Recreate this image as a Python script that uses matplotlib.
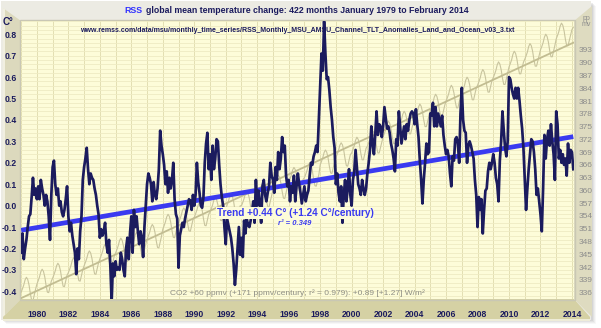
import numpy as np
import matplotlib
matplotlib.use("Agg")
import matplotlib.pyplot as plt
from matplotlib.patches import Polygon, Rectangle

# ---------------- data ----------------
temp_1979_1988 = [
    -0.22, -0.13, -0.25, -0.20, -0.16, -0.10, -0.05, -0.04, 0.04, 0.13, 0.05, 0.08,
    0.03, 0.09, 0.03, 0.12, 0.08, 0.05, 0.00, 0.05, 0.02, -0.05, -0.16, 0.05,
    0.18, 0.21, 0.10, 0.05, 0.08, 0.00, 0.02, -0.03, -0.05, -0.02, 0.03, 0.09,
    -0.05, -0.12, -0.08, -0.14, -0.18, -0.22, -0.32, -0.20, -0.25, -0.12, -0.05, 0.12,
    0.18, 0.22, 0.27, 0.17, 0.10, 0.15, 0.13, 0.12, 0.08, 0.05, 0.00, -0.04,
    -0.15, -0.11, -0.14, -0.12, -0.08, -0.18, -0.22, -0.16, -0.28, -0.45, -0.27, -0.33,
    -0.26, -0.30, -0.29, -0.30, -0.22, -0.25, -0.30, -0.33, -0.20, -0.15, -0.25, -0.13,
    -0.05, -0.22, -0.02, -0.10, -0.05, -0.12, -0.18, -0.12, -0.15, -0.24, -0.10, 0.00,
    0.10, 0.15, 0.13, 0.10, 0.02, 0.11, 0.05, 0.03, 0.08, 0.17, 0.35, 0.28,
    0.24, 0.19, 0.10, 0.16, 0.06, 0.13, 0.08, 0.12, 0.20, 0.03, -0.04, -0.06,
]
temp_1989_1998 = [
    -0.29, -0.14, -0.11, -0.08, -0.10, -0.06, -0.03, 0.00, 0.03, 0.02, -0.02, 0.05,
    0.00, 0.05, 0.20, 0.11, 0.06, 0.00, -0.01, 0.04, 0.20, 0.29, 0.34, 0.17,
    0.24, 0.12, 0.28, 0.17, 0.22, 0.31, 0.30, 0.19, 0.10, 0.04, 0.00, -0.10,
    -0.18, -0.06, -0.09, -0.12, -0.15, -0.20, -0.27, -0.37, -0.30, -0.20, -0.10, -0.23,
    -0.15, -0.24, -0.07, -0.13, -0.06, -0.09, -0.10, -0.07, -0.03, 0.02, -0.08, 0.12,
    0.00, 0.07, 0.01, -0.08, 0.09, 0.12, 0.05, 0.02, 0.06, 0.09, 0.20, 0.14,
    0.12, 0.06, 0.18, 0.12, 0.25, 0.17, 0.22, 0.32, 0.25, 0.28, 0.14, 0.09,
    0.12, 0.02, 0.09, 0.06, 0.14, 0.02, 0.09, 0.15, 0.10, 0.06, 0.01, 0.05,
    0.09, 0.02, 0.05, 0.07, 0.14, 0.20, 0.19, 0.23, 0.25, 0.28, 0.25, 0.40,
    0.55, 0.71, 0.63, 0.86, 0.71, 0.59, 0.60, 0.54, 0.46, 0.40, 0.32, 0.27,
]
temp_1999_2008 = [
    0.10, 0.15, 0.06, 0.02, 0.09, -0.08, 0.05, 0.12, 0.02, 0.08, 0.17, 0.05,
    0.00, 0.12, 0.16, 0.26, 0.18, 0.10, 0.08, 0.05, 0.12, 0.08, 0.05, 0.08,
    0.15, 0.20, 0.26, 0.37, 0.29, 0.24, 0.33, 0.44, 0.33, 0.38, 0.37, 0.32,
    0.37, 0.46, 0.41, 0.36, 0.37, 0.34, 0.29, 0.26, 0.22, 0.16, 0.31, 0.28,
    0.44, 0.37, 0.29, 0.33, 0.37, 0.31, 0.38, 0.35, 0.40, 0.43, 0.44, 0.43,
    0.38, 0.45, 0.38, 0.32, 0.21, 0.12, 0.01, 0.12, 0.20, 0.29, 0.24, 0.25,
    0.43, 0.42, 0.48, 0.37, 0.46, 0.37, 0.43, 0.40, 0.37, 0.42, 0.33, 0.28,
    0.24, 0.26, 0.23, 0.15, 0.09, 0.23, 0.21, 0.31, 0.32, 0.29, 0.20, 0.43,
    0.55, 0.40, 0.35, 0.34, 0.20, 0.28, 0.30, 0.28, 0.25, 0.22, 0.12, 0.05,
    -0.10, 0.04, -0.02, 0.03, -0.13, -0.02, 0.07, 0.08, 0.16, 0.20, 0.17, 0.20,
]
temp_2009_2014 = [
    0.24, 0.20, 0.13, 0.10, 0.02, 0.21, 0.30, 0.44, 0.35, 0.27, 0.23, 0.30,
    0.60, 0.59, 0.55, 0.52, 0.50, 0.55, 0.50, 0.55, 0.49, 0.42, 0.36, 0.27,
    0.13, -0.02, 0.08, 0.17, 0.24, 0.31, 0.30, 0.25, 0.17, 0.05, 0.08, 0.02,
    -0.04, -0.12, 0.08, 0.33, 0.22, 0.31, 0.35, 0.28, 0.38, 0.30, 0.24, 0.12,
    0.44, 0.38, 0.22, 0.26, 0.20, 0.24, 0.19, 0.22, 0.14, 0.29, 0.20, 0.26,
    0.25, 0.17,
]

co2_1979_1988 = [
    336.1, 336.9, 337.8, 339.0, 339.6, 339.1, 337.8, 335.8, 334.2, 334.1, 335.5, 336.8,
    338.0, 338.8, 339.7, 340.9, 341.5, 341.0, 339.7, 337.7, 336.1, 336.0, 337.4, 338.7,
    339.4, 340.2, 341.1, 342.3, 342.9, 342.4, 341.1, 339.1, 337.5, 337.4, 338.8, 340.1,
    340.7, 341.5, 342.4, 343.6, 344.2, 343.7, 342.4, 340.4, 338.8, 338.7, 340.1, 341.4,
    342.3, 343.1, 344.0, 345.2, 345.8, 345.3, 344.0, 342.0, 340.4, 340.3, 341.7, 343.0,
    343.9, 344.7, 345.6, 346.8, 347.4, 346.9, 345.6, 343.6, 342.0, 341.9, 343.3, 344.6,
    345.3, 346.1, 347.0, 348.2, 348.8, 348.3, 347.0, 345.0, 343.4, 343.3, 344.7, 346.0,
    346.7, 347.5, 348.4, 349.6, 350.2, 349.7, 348.4, 346.4, 344.8, 344.7, 346.1, 347.4,
    348.5, 349.3, 350.2, 351.4, 352.0, 351.5, 350.2, 348.2, 346.6, 346.5, 347.9, 349.2,
    350.9, 351.7, 352.6, 353.8, 354.4, 353.9, 352.6, 350.6, 349.0, 348.9, 350.3, 351.6,
]
co2_1989_1998 = [
    352.4, 353.2, 354.1, 355.3, 355.9, 355.4, 354.1, 352.1, 350.5, 350.4, 351.8, 353.1,
    353.7, 354.5, 355.4, 356.6, 357.2, 356.7, 355.4, 353.4, 351.8, 351.7, 353.1, 354.4,
    354.9, 355.7, 356.6, 357.8, 358.4, 357.9, 356.6, 354.6, 353.0, 352.9, 354.3, 355.6,
    355.7, 356.5, 357.4, 358.6, 359.2, 358.7, 357.4, 355.4, 353.8, 353.7, 355.1, 356.4,
    356.4, 357.2, 358.1, 359.3, 359.9, 359.4, 358.1, 356.1, 354.5, 354.4, 355.8, 357.1,
    358.1, 358.9, 359.8, 361.0, 361.6, 361.1, 359.8, 357.8, 356.2, 356.1, 357.5, 358.8,
    360.1, 360.9, 361.8, 363.0, 363.6, 363.1, 361.8, 359.8, 358.2, 358.1, 359.5, 360.8,
    361.9, 362.7, 363.6, 364.8, 365.4, 364.9, 363.6, 361.6, 360.0, 359.9, 361.3, 362.6,
    363.0, 363.8, 364.7, 365.9, 366.5, 366.0, 364.7, 362.7, 361.1, 361.0, 362.4, 363.7,
    366.0, 366.8, 367.7, 368.9, 369.5, 369.0, 367.7, 365.7, 364.1, 364.0, 365.4, 366.7,
]
co2_1999_2008 = [
    367.7, 368.5, 369.4, 370.6, 371.2, 370.7, 369.4, 367.4, 365.8, 365.7, 367.1, 368.4,
    368.8, 369.6, 370.5, 371.8, 372.5, 372.0, 370.7, 368.7, 367.2, 367.2, 368.5, 369.9,
    370.4, 371.2, 372.1, 373.4, 374.1, 373.6, 372.3, 370.3, 368.8, 368.8, 370.1, 371.5,
    372.6, 373.4, 374.3, 375.6, 376.3, 375.8, 374.5, 372.5, 371.0, 371.0, 372.3, 373.7,
    374.9, 375.7, 376.6, 377.9, 378.6, 378.1, 376.8, 374.8, 373.3, 373.3, 374.6, 376.0,
    376.6, 377.4, 378.3, 379.6, 380.3, 379.8, 378.5, 376.5, 375.0, 375.0, 376.3, 377.7,
    378.9, 379.7, 380.6, 381.9, 382.6, 382.1, 380.8, 378.8, 377.3, 377.3, 378.6, 380.0,
    381.0, 381.8, 382.7, 384.0, 384.7, 384.2, 382.9, 380.9, 379.4, 379.4, 380.7, 382.1,
    382.9, 383.7, 384.6, 385.9, 386.6, 386.1, 384.8, 382.8, 381.3, 381.3, 382.6, 384.0,
    384.7, 385.5, 386.4, 387.7, 388.4, 387.9, 386.6, 384.6, 383.1, 383.1, 384.4, 385.8,
]
co2_2009_2014 = [
    386.5, 387.3, 388.2, 389.5, 390.2, 389.7, 388.4, 386.4, 384.9, 384.9, 386.2, 387.6,
    389.0, 389.8, 390.7, 392.0, 392.7, 392.2, 390.9, 388.9, 387.4, 387.4, 388.7, 390.1,
    390.8, 391.6, 392.5, 393.8, 394.5, 394.0, 392.7, 390.7, 389.2, 389.2, 390.5, 391.9,
    393.0, 393.8, 394.7, 396.0, 396.7, 396.2, 394.9, 392.9, 391.4, 391.4, 392.7, 394.1,
    395.6, 396.4, 397.3, 398.6, 399.3, 398.8, 397.5, 395.5, 394.0, 394.0, 395.3, 396.7,
    397.8, 398.3,
]

temp_trend_ends = [-0.115, 0.322]     # deg C at Jan 1979 / Feb 2014
co2_trend_ends = [334.7, 394.7]       # ppmv at Jan 1979 / Feb 2014
year_ticks = list(range(1980, 2015, 2))
temp_ticks = [0.8, 0.7, 0.6, 0.5, 0.4, 0.3, 0.2, 0.1, 0.0, -0.1, -0.2, -0.3, -0.4]
ppm_ticks = list(range(336, 394, 3))

title_blue = "RSS"
title_rest = "global mean temperature change: 422 months January 1979 to February 2014"
url_text = ("www.remss.com/data/msu/monthly_time_series/"
            "RSS_Monthly_MSU_AMSU_Channel_TLT_Anomalies_Land_and_Ocean_v03_3.txt")
trend_text = "Trend +0.44 C\u00b0 (+1.24 C\u00b0/century)"
r2_text = "r\u00b2 = 0.349"
co2_text = "CO2 +60 ppmv (+171 ppmv/century; r\u00b2 = 0.979): +0.89 [+1.27] W/m\u00b2"

# ---------------- figure ----------------
W, H = 601, 328
plt.rcParams["font.family"] = ["Liberation Sans", "DejaVu Sans"]
fig = plt.figure(figsize=(W / 100, H / 100), dpi=100)
fig.patch.set_facecolor("white")

NAVY = "#1b1b5e"
BLUE = "#3a3af0"
PLOTBG = "#fdfcd9"

def fx(x):
    return x / W

def fy(y):
    return 1 - y / H

# background frame in pixel coordinates
bg = fig.add_axes([0, 0, 1, 1], zorder=-10)
bg.set_xlim(0, W)
bg.set_ylim(H, 0)
bg.axis("off")
for i, a in enumerate([0.08, 0.10, 0.13, 0.18]):
    bg.add_patch(Rectangle((6 - i, 6 - i), 590, 318, color="#9a9a9a", alpha=a, lw=0))
bg.add_patch(Rectangle((1, 1), 590, 319, color="#ecebe3", lw=0))
# left wall
bg.add_patch(Polygon([(3, 8), (21, 21), (21, 299), (3, 317)], closed=True,
                     facecolor="#dcd9bd", edgecolor="none"))
bg.add_patch(Polygon([(3, 8), (5, 9), (5, 316), (3, 317)], closed=True,
                     facecolor="#f1efe0", edgecolor="none"))
# floor
bg.add_patch(Polygon([(3, 317), (21, 299), (574, 299), (590, 317), (590, 321), (3, 321)],
                     closed=True, facecolor="#d5d1a4", edgecolor="none"))
bg.add_patch(Polygon([(3, 319), (590, 319), (590, 321), (3, 321)],
                     closed=True, facecolor="#eeecd8", edgecolor="none"))
# right wall
bg.add_patch(Polygon([(574, 21), (592, 6), (592, 317), (574, 299)], closed=True,
                     facecolor="#dedbc0", edgecolor="none"))
# plot frame
bg.add_patch(Rectangle((20, 20), 555, 280, fill=False, ec="#c9c7b4", lw=1.0))

# main plot region
L, R, T, B = 21, 574, 21, 299
rect = [fx(L), fy(B), (R - L) / W, (B - T) / H]

ax2 = fig.add_axes(rect, zorder=1)   # ppmv axis (behind)
ax = fig.add_axes(rect, zorder=2)    # temperature axis (front)
ax.patch.set_visible(False)
ax2.set_facecolor(PLOTBG)

temps = np.array(temp_1979_1988 + temp_1989_1998 + temp_1999_2008 + temp_2009_2014)
co2 = np.array(co2_1979_1988 + co2_1989_1998 + co2_1999_2008 + co2_2009_2014)
n = len(temps)
t = 1979 + np.arange(n) / 12.0
tend = [t[0], t[-1]]

xlim = (1978.99, 2014.13)
ylim_t = (-0.436, 0.862)
ylim_c = (334.5, 399.8)
ax.set_xlim(*xlim)
ax2.set_xlim(*xlim)
ax.set_ylim(*ylim_t)
ax2.set_ylim(*ylim_c)

# grid
for yr in range(1979, 2015):
    ax2.axvline(yr, color="#e3dfb2", lw=0.7, zorder=0)
for v in np.arange(-0.42, 0.87, 0.02):
    yv = ylim_c[0] + (v - ylim_t[0]) / (ylim_t[1] - ylim_t[0]) * (ylim_c[1] - ylim_c[0])
    ax2.axhline(yv, color="#eeebc3", lw=0.6, zorder=0)

# CO2 (behind)
ax2.plot(t, co2, color="#c8c49e", lw=0.8, zorder=2)
ax2.plot(tend, co2_trend_ends, color="#c2bd92", lw=1.3, zorder=3)

# temperature
ax.plot(tend, temp_trend_ends, color=BLUE, lw=3.4, solid_capstyle="butt", zorder=3)
ax.plot(t, temps, color=NAVY, lw=1.95, solid_joinstyle="round", zorder=4)

# ticks
for a in (ax, ax2):
    for s in a.spines.values():
        s.set_visible(False)
ax.set_xticks(year_ticks)
ax.set_xticklabels([str(y) for y in year_ticks], fontsize=6.2, fontweight="bold", color=NAVY)
ax.set_yticks(temp_ticks)
ax.set_yticklabels([f"{v:.1f}" for v in temp_ticks], fontsize=6.2, fontweight="bold", color=NAVY)
ax.tick_params(axis="x", length=0, pad=8)
ax.tick_params(axis="y", length=0, pad=3)
ax2.set_xticks([])
ax2.yaxis.tick_right()
ax2.set_yticks(ppm_ticks)
ax2.set_yticklabels([str(v) for v in ppm_ticks], fontsize=6.0, color="#8c8c8c")
ax2.tick_params(axis="y", length=0, pad=3.5)

# texts
fig.text(fx(142.7), fy(10.5), title_blue, ha="right", va="center", fontsize=6.4,
         fontweight="bold", color="#3333ff")
fig.text(fx(146.5), fy(10.5), title_rest, ha="left", va="center", fontsize=6.35,
         fontweight="bold", color=NAVY)
fig.text(fx(297), fy(30), url_text, ha="center", va="center", fontsize=5.0,
         fontweight="bold", color=NAVY, zorder=5)
fig.text(fx(8), fy(22), "C\u00b0", ha="center", va="center", fontsize=7,
         fontweight="bold", color=NAVY)
fig.text(fx(586), fy(22), "pp\nmv", ha="center", va="center", fontsize=5,
         color="#8c8c8c", linespacing=0.8)

ax.text(1996.4, -0.033, trend_text, ha="center", va="center", fontsize=7.2,
        fontweight="bold", color=BLUE, zorder=6,
        bbox=dict(boxstyle="square,pad=0.1", fc=PLOTBG, ec="none"))
ax.text(1996.4, -0.083, r2_text, ha="center", va="center", fontsize=5.5,
        fontstyle="italic", fontweight="bold", color=BLUE, zorder=6,
        bbox=dict(boxstyle="square,pad=0.1", fc=PLOTBG, ec="none"))
ax.text(1996.57, -0.408, co2_text, ha="center", va="center", fontsize=6.0,
        color="#8e8e84", zorder=6)

fig.savefig("out.png", dpi=100)
